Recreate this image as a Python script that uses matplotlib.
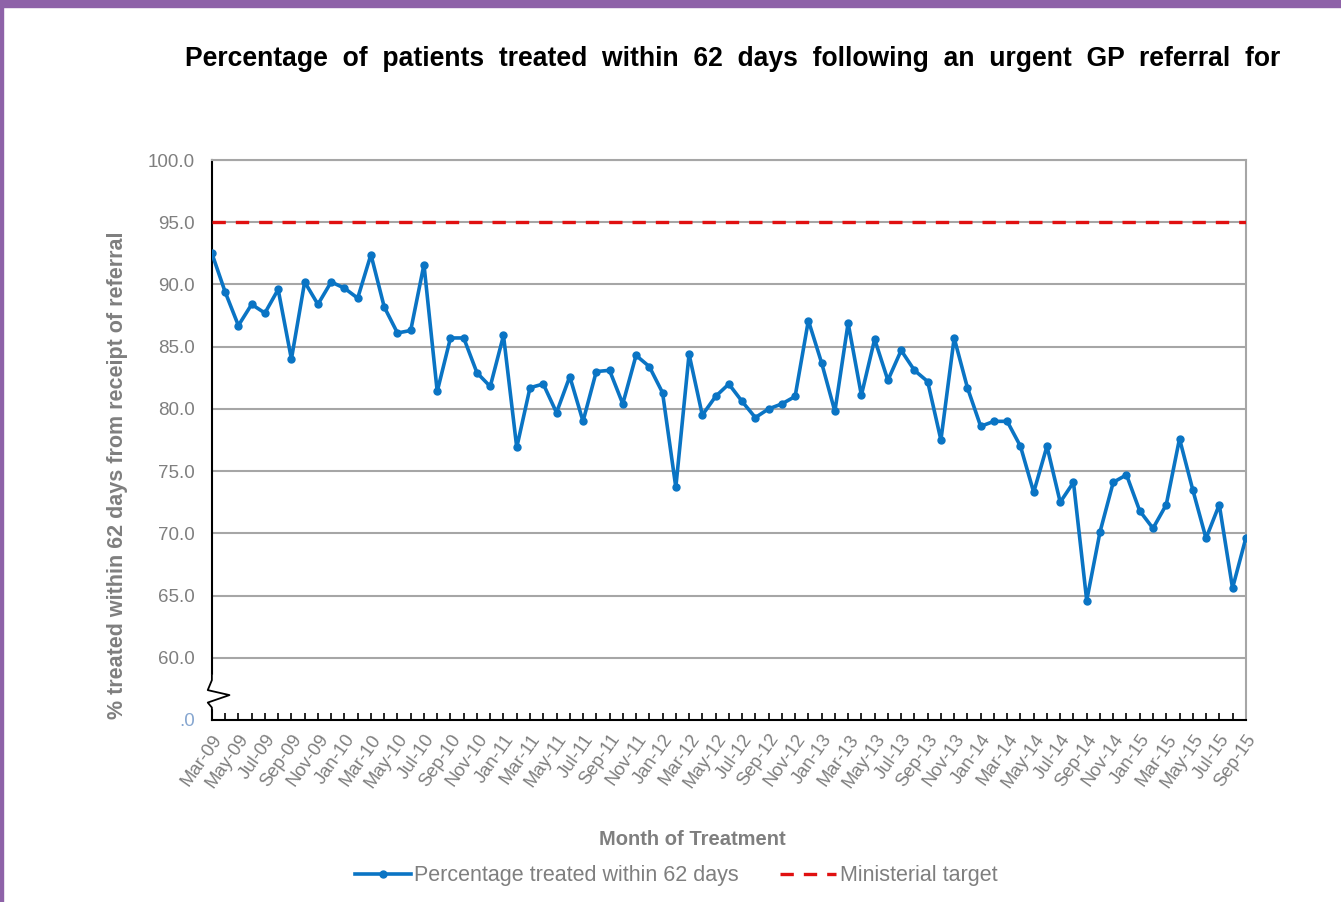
import numpy as np
import matplotlib
matplotlib.use("Agg")
from matplotlib import pyplot as plt
import matplotlib.patches as mpatches
import matplotlib.transforms as mtransforms

# monthly values, Mar-09 .. Sep-15
months = ["Jan", "Feb", "Mar", "Apr", "May", "Jun", "Jul", "Aug", "Sep", "Oct", "Nov", "Dec"]
labels = []
for yr in range(9, 16):
    for m in months:
        labels.append("%s-%02d" % (m, yr))
labels = labels[2:2 + 79]

pct_treated = [
    92.5, 89.4, 86.7, 88.4, 87.7, 89.6, 84.0, 90.2, 88.4, 90.2,
    89.7, 88.9, 92.4, 88.2, 86.1, 86.3, 91.6, 81.4, 85.7, 85.7,
    82.9, 81.8, 85.9, 76.9, 81.7, 82.0, 79.7, 82.6, 79.0, 83.0,
    83.1, 80.4, 84.3, 83.4, 81.3, 73.7, 84.4, 79.5, 81.0, 82.0,
    80.6, 79.3, 80.0, 80.4, 81.0, 87.1, 83.7, 79.8, 86.9, 81.1,
    85.6, 82.3, 84.7, 83.1, 82.2, 77.5, 85.7, 81.7, 78.6, 79.0,
    79.0, 77.0, 73.3, 77.0, 72.5, 74.1, 64.6, 70.1, 74.1, 74.7,
    71.8, 70.4, 72.3, 77.6, 73.5, 69.6, 72.3, 65.6, 69.6,
]
target = 95.0

ytick_vals = [55, 60, 65, 70, 75, 80, 85, 90, 95, 100]
ytick_labels = [".0", "60.0", "65.0", "70.0", "75.0", "80.0", "85.0", "90.0", "95.0", "100.0"]

grey = "#7f7f7f"

def main():
    fig = plt.figure(figsize=(13.41, 9.02), dpi=100)
    plt.rcParams["font.family"] = ["Liberation Sans", "DejaVu Sans"]

    # frame decoration of the screenshot
    fig.patches.append(mpatches.Rectangle((0, 0.992), 1, 0.008, transform=fig.transFigure,
                                          color="#8e62a8", zorder=0))
    fig.patches.append(mpatches.Rectangle((0, 0), 0.0022, 1, transform=fig.transFigure,
                                          color="#8e62a8", zorder=0))

    fig.text(0.546, 0.935, "Percentage  of  patients  treated  within  62  days  following  an  urgent  GP  referral  for",
             ha="center", va="center", fontsize=19.1, weight="bold", color="black")

    ax = fig.add_axes([0.158, 0.2018, 0.771, 0.6208])
    x = np.arange(len(pct_treated))

    ax.plot(x, pct_treated, color="#0a74c4", lw=2.6, marker="o", ms=5,
            label="Percentage treated within 62 days", zorder=4)
    ax.plot([0, len(x) - 1], [target, target], color="#e01010", lw=2.4, ls=(0, (4, 3)),
            label="Ministerial target", zorder=3)

    ax.set_xlim(0, len(x) - 1)
    ax.set_ylim(55, 100)
    ax.set_yticks(ytick_vals)
    ax.set_yticklabels(ytick_labels, color=grey, fontsize=13.5)
    ax.get_yticklabels()[0].set_color("#86a6d0")
    ax.tick_params(axis="y", length=0, pad=12)
    for v in ytick_vals[1:]:
        ax.axhline(v, color="#a6a6a6", lw=1.5, zorder=1)

    ax.set_xticks(x, minor=True)
    ax.set_xticks(x[::2])
    ax.set_xticklabels(labels[::2], rotation=55, ha="right", rotation_mode="anchor",
                       color=grey, fontsize=13.3)
    ax.tick_params(axis="x", which="both", direction="in", length=5, width=1.2, pad=8)

    for s in ["top", "right"]:
        ax.spines[s].set_color("#a6a6a6")
        ax.spines[s].set_linewidth(1.5)
    for s in ["left", "bottom"]:
        ax.spines[s].set_color("black")
        ax.spines[s].set_linewidth(1.5)

    # axis break mark between .0 and 60
    trans = mtransforms.blended_transform_factory(ax.transAxes, ax.transData)
    ax.add_patch(mpatches.Rectangle((-0.004, 56.0), 0.008, 2.6, transform=trans,
                                    color="white", clip_on=False, zorder=5))
    zx = [0.0, 0.0, -0.004, 0.017, -0.004, 0.0, 0.0]
    zy = [58.6, 58.2, 57.4, 57.0, 56.4, 56.0, 55.7]
    ax.plot(zx, zy, color="black", lw=1.3, transform=trans, clip_on=False, zorder=6)

    ax.set_ylabel("% treated within 62 days from receipt of referral", fontsize=15.5,
                  weight="bold", color=grey)
    ax.yaxis.set_label_coords(-0.081, 0.4375)
    ax.set_xlabel("Month of Treatment", fontsize=14.5, weight="bold", color=grey)
    ax.xaxis.set_label_coords(0.465, -0.197)

    leg = fig.legend(loc="center", bbox_to_anchor=(0.504, 0.029), ncol=2, frameon=False,
                     fontsize=15.5, handlelength=2.6, columnspacing=1.95, handletextpad=0.15)
    for t in leg.get_texts():
        t.set_color(grey)

    plt.savefig("out.png", dpi=100)

if __name__ == "__main__":
    main()
